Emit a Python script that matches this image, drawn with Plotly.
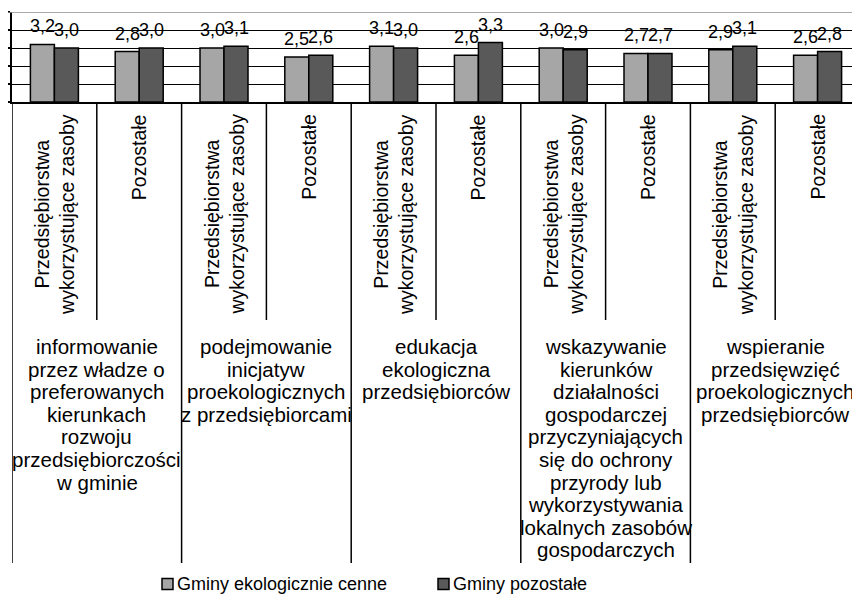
import plotly.graph_objects as go

# data
groups = [
    ["informowanie", "przez władze o", "preferowanych", "kierunkach", "rozwoju",
     "przedsiębiorczości", "w gminie"],
    ["podejmowanie", "inicjatyw", "proekologicznych", "z przedsiębiorcami"],
    ["edukacja", "ekologiczna", "przedsiębiorców"],
    ["wskazywanie", "kierunków", "działalności", "gospodarczej", "przyczyniających",
     "się do ochrony", "przyrody lub", "wykorzystywania", "lokalnych zasobów",
     "gospodarczych"],
    ["wspieranie", "przedsięwzięć", "proekologicznych", "przedsiębiorców"],
]
subcats = ["Przedsiębiorstwa<br>wykorzystujące zasoby", "Pozostałe"]
series_names = ["Gminy ekologicznie cenne", "Gminy pozostałe"]
eko_cenne = [3.2, 2.8, 3.0, 2.5, 3.1, 2.6, 3.0, 2.7, 2.9, 2.6]
pozostale = [3.0, 3.0, 3.1, 2.6, 3.0, 3.3, 2.9, 2.7, 3.1, 2.8]

colors = ["#a6a6a6", "#595959"]
FONT = "Liberation Sans, Arial, sans-serif"

# the page body has an 8px margin, so the figure is shifted by that much
OFF = 8
W, H = 860 - OFF, 594 - OFF
L, R, T, B = 12 - OFF, 0, 12 - OFF, 492
PW = W - L - R
PH = H - T - B


def py(p):
    # screen pixel row -> paper y
    return (H - B - (p - OFF)) / PH


def px(p):
    # screen pixel column -> paper x
    return (p - OFF - L) / PW


n = len(eko_cenne)
xs = list(range(n))

fig = go.Figure()
for name, vals, col in zip(series_names, [eko_cenne, pozostale], colors):
    fig.add_trace(
        go.Bar(x=xs, y=vals, name=name, marker=dict(color=col, line=dict(color="black", width=1.5)),
               showlegend=False)
    )

annotations = []
half = 0.1415
for vals, off in [(eko_cenne, -half), (pozostale, half)]:
    for i, v in enumerate(vals):
        annotations.append(dict(
            x=i + off, y=v, xref="x", yref="y", text=f"{v:.1f}".replace(".", ","),
            showarrow=False, yanchor="bottom", yshift=6,
            font=dict(family=FONT, size=18, color="black")))

# rotated sub-category labels
for i in range(n):
    annotations.append(dict(
        x=i, y=py(112), xref="x", yref="paper", text=subcats[i % 2], textangle=-90,
        showarrow=False, yanchor="top", xanchor="center", align="center",
        font=dict(family=FONT, size=19.5, color="black")))

# group labels, one annotation per line
for g, lines in enumerate(groups):
    for k, line in enumerate(lines):
        annotations.append(dict(
            x=2 * g + 0.5, y=py(346.5 + 22.6 * k), xref="x", yref="paper", text=line,
            showarrow=False, yanchor="middle", xanchor="center",
            font=dict(family=FONT, size=20.5, color="black")))

shapes = []
# separators below the axis
for g in range(len(groups)):
    shapes.append(dict(type="line", xref="x", yref="paper", x0=2 * g - 0.5, x1=2 * g - 0.5,
                       y0=py(102), y1=py(563), line=dict(color="black", width=1.5)))
    shapes.append(dict(type="line", xref="x", yref="paper", x0=2 * g + 0.5, x1=2 * g + 0.5,
                       y0=py(102), y1=py(320), line=dict(color="black", width=1.5)))
# grey top border
shapes.append(dict(type="line", xref="paper", yref="y", x0=px(6), x1=1, y0=5, y1=5,
                   line=dict(color="#8c8c8c", width=1.5)))

# legend drawn by hand
leg_x = [162, 438]
for name, col, lx in zip(series_names, colors, leg_x):
    shapes.append(dict(type="rect", xref="paper", yref="paper", x0=px(lx), x1=px(lx + 11),
                       y0=py(589.5), y1=py(578.5), fillcolor=col, line=dict(color="black", width=1.5)))
    annotations.append(dict(
        x=px(lx + 13), y=py(583.5), xref="paper", yref="paper", text=name, showarrow=False,
        xanchor="left", yanchor="middle", font=dict(family=FONT, size=18, color="black")))

fig.update_layout(
    width=W, height=H,
    margin=dict(l=L, r=R, t=T, b=B, autoexpand=False),
    plot_bgcolor="white", paper_bgcolor="white",
    barmode="group", bargap=0.434, bargroupgap=0,
    xaxis=dict(range=[-0.5, n - 0.5], showticklabels=False, ticks="", showgrid=False,
               zeroline=False, showline=True, linecolor="black", linewidth=1.5, automargin=False),
    yaxis=dict(range=[0, 5], tickvals=[0, 1, 2, 3, 4, 5], showticklabels=False, ticks="outside",
               ticklen=6, tickcolor="black", tickwidth=1.5, showgrid=True, gridcolor="black",
               gridwidth=1, zeroline=False, showline=True, linecolor="black", linewidth=1.5,
               automargin=False),
    annotations=annotations,
    shapes=shapes,
    showlegend=False,
)

fig.write_html("out.html")
